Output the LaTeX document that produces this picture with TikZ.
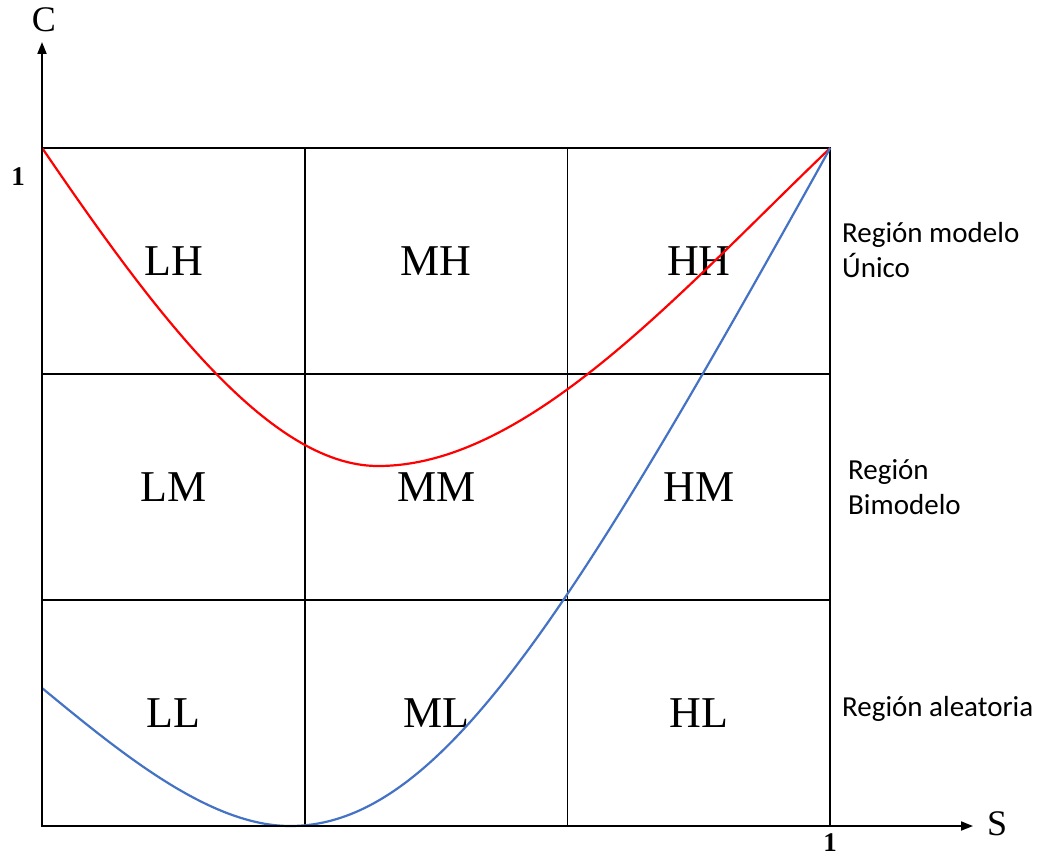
\documentclass[tikz,border=0pt]{standalone}
\usepackage{fontspec}
\setmainfont{Liberation Serif}
\newfontfamily\regionfont{Carlito}
\usetikzlibrary{positioning,arrows.meta}
\definecolor{curveblue}{RGB}{68,114,196}
\tikzset{
  cell/.style={draw,line width=1.8pt,minimum width=262.7pt,minimum height=226pt,
    inner sep=0pt,outer sep=0pt,font=\fontsize{44}{44}\selectfont},
  axis/.style={line width=1.8pt,-{Triangle[length=12pt,width=9pt]}},
  axislabel/.style={font=\fontsize{36}{36}\selectfont,inner sep=0pt},
  ticklabel/.style={font=\bfseries\fontsize{27}{27}\selectfont,inner sep=0pt},
  region/.style={anchor=west,align=left,inner sep=0pt,
    font=\regionfont\fontsize{29}{35}\selectfont},
  curve/.style={line width=2.2pt},
}
\begin{document}
\begin{tikzpicture}[x=1pt,y=-1pt,node distance=0pt]
\useasboundingbox (0,0) rectangle (1040,856);

% grid of regions
\node[cell] (LH) at (173.5,261) {LH};
\node[cell,right=of LH] (MH) {MH};
\node[cell,right=of MH] (HH) {HH};
\node[cell,below=of LH] (LM) {LM};
\node[cell,right=of LM] (MM) {MM};
\node[cell,right=of MM] (HM) {HM};
\node[cell,below=of LM] (LL) {LL};
\node[cell,right=of LL] (ML) {ML};
\node[cell,right=of ML] (HL) {HL};

% curves
\coordinate (redmin) at (378,466);
\coordinate (bluemin) at (290,826);
\draw[curve,red] (LH.north west) .. controls (152,309) and (268,466) .. (redmin)
  .. controls (528,466) and (680,292) .. (HH.north east);
\draw[curve,curveblue] (42,688) .. controls (122,754) and (210,826) .. (bluemin)
  .. controls (440,826) and (570,616) .. (HH.north east);

% axes
\coordinate (O) at (42,826);
\coordinate (ytop) at (42,42);
\coordinate (xend) at (973,826);
\draw[axis] (O) -- (ytop);
\draw[axis] (O) -- (xend);
\node[axislabel] (C) at (44,20) {C};
\node[axislabel] (S) at (997,824) {S};
\node[ticklabel] (c1) at (18,177) {1};
\node[ticklabel] (s1) at (830,843) {1};

% regions
\node[region] (unico) at (842,250) {Región modelo\\Único};
\node[region] (bimodelo) at (848,487) {Región\\Bimodelo};
\node[region] (aleatoria) at (842,709) {Región aleatoria};
\end{tikzpicture}
\end{document}
